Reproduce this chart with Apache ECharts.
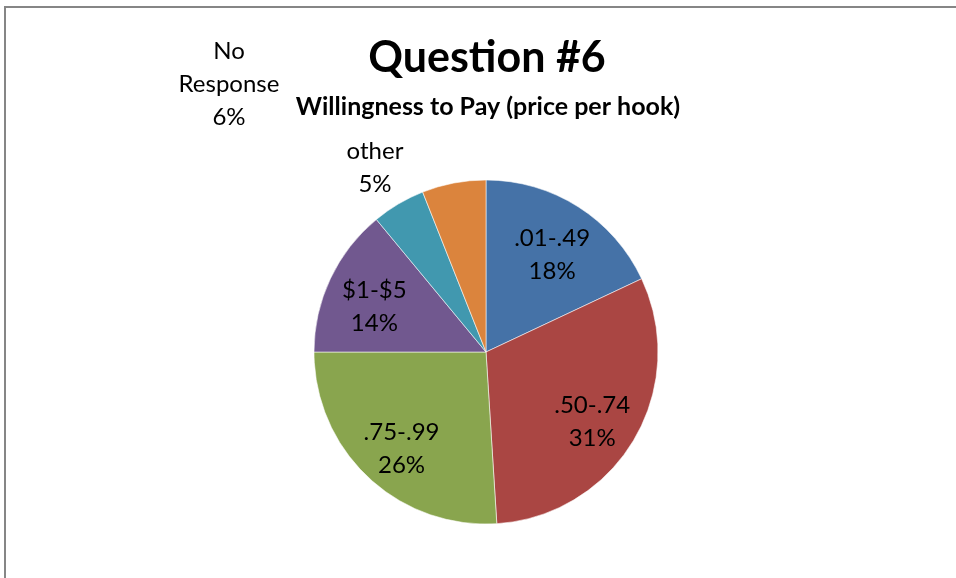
<!DOCTYPE html>
<html>
<head>
<meta charset="utf-8">
<title>Question #6</title>
<script src="https://cdn.jsdelivr.net/npm/echarts@6/dist/echarts.min.js"></script>
<style>
  html, body { margin: 0; padding: 0; background: #ffffff; }
  #chart { width: 956px; height: 578px; }
</style>
</head>
<body>
<div id="chart"></div>
<script>
// Survey answers, percent of respondents
const categories = ['.01-.49', '.50-.74', '.75-.99', '$1-$5', 'other', 'No Response'];
const values = [18, 31, 26, 14, 5, 6];
const colors = ['#4572A7', '#AA4643', '#89A54E', '#71588F', '#4198AF', '#DB843D'];

const titleText = 'Question #6';
const subtitleText = 'Willingness to Pay (price per hook)';

const FONT = 'Lato, "Open Sans", "DejaVu Sans", sans-serif';
const CX = 486, CY = 352, R = 172;

const pieData = categories.map((name, i) => ({
  name: name,
  value: values[i],
  itemStyle: { color: colors[i] }
}));

// Labels that sit outside the pie are placed freely in the chart area
const outsideLabelSpots = {
  4: { x: 375, y: 168 },
  5: { x: 229, y: 84 }
};

const chart = echarts.init(document.getElementById('chart'), null, { renderer: 'canvas' });

chart.setOption({
  animation: false,
  backgroundColor: '#ffffff',
  title: [
    {
      text: titleText,
      left: 482,
      top: 32,
      textAlign: 'center',
      textStyle: { fontFamily: FONT, fontSize: 43, fontWeight: 'bold', color: '#000000' }
    },
    {
      text: subtitleText,
      left: 483,
      top: 89,
      textAlign: 'center',
      textStyle: { fontFamily: FONT, fontSize: 25, fontWeight: 'bold', color: '#000000' }
    }
  ],
  graphic: [
    {
      // chart frame (top and left edges visible)
      type: 'rect',
      shape: { x: 5, y: 7, width: 1200, height: 1200 },
      style: { fill: 'none', stroke: '#868686', lineWidth: 2 },
      silent: true
    }
  ],
  series: [
    {
      type: 'pie',
      center: [CX, CY],
      radius: [0, R],
      startAngle: 90,
      clockwise: true,
      silent: true,
      label: { show: false },
      labelLine: { show: false },
      itemStyle: { borderColor: 'rgba(255,255,255,0.55)', borderWidth: 1 },
      data: pieData
    },
    {
      // transparent ring that only carries the data labels
      type: 'pie',
      center: [CX, CY],
      radius: [R * 0.4, R],
      startAngle: 90,
      clockwise: true,
      silent: true,
      percentPrecision: 0,
      itemStyle: { color: 'rgba(0,0,0,0)', borderWidth: 0 },
      labelLine: { show: false },
      label: {
        show: true,
        position: 'inside',
        fontFamily: FONT,
        fontSize: 24,
        lineHeight: 33,
        color: '#000000',
        align: 'center',
        formatter: function (p) {
          return p.name.replace(' ', '\n') + '\n' + p.percent + '%';
        }
      },
      labelLayout: function (params) {
        const spot = outsideLabelSpots[params.dataIndex];
        if (spot) {
          return { x: spot.x, y: spot.y, align: 'center', verticalAlign: 'middle' };
        }
        return { dy: 7 };
      },
      data: categories.map((name, i) => ({ name: name, value: values[i] }))
    }
  ]
});
</script>
</body>
</html>
